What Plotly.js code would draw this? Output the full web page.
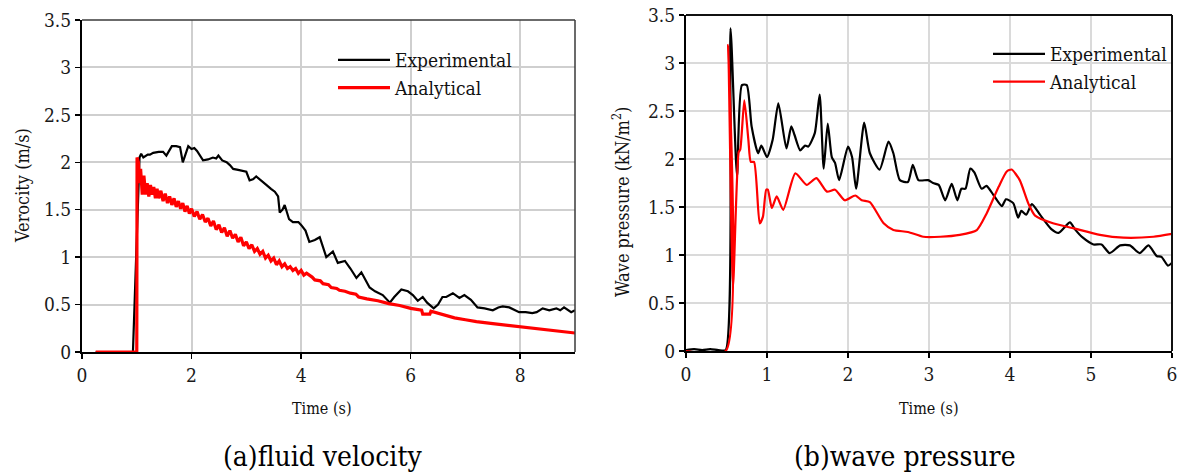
<!DOCTYPE html>
<html>
<head>
<meta charset="utf-8">
<script src="https://cdn.plot.ly/plotly-3.0.1.min.js"></script>
<style>html,body{margin:0;padding:0;background:#fff;}#chart{width:1182px;height:473px;}</style>
</head>
<body>
<div id="chart"></div>
<script>
// ---------- (a) fluid velocity ----------
const velTimeExp = [0.25,0.93,1.05,1.08,1.12,1.2,1.24,1.3,1.4,1.48,1.54,1.6,1.64,1.72,1.79,1.84,1.9,1.94,2.0,2.05,2.1,2.21,2.3,2.39,2.45,2.49,2.56,2.64,2.7,2.76,2.85,3.0,3.06,3.12,3.18,3.25,3.37,3.45,3.52,3.58,3.61,3.66,3.7,3.78,3.85,3.95,4.0,4.08,4.15,4.25,4.34,4.46,4.58,4.67,4.8,4.9,5.01,5.1,5.18,5.25,5.35,5.49,5.62,5.7,5.83,5.95,6.04,6.13,6.22,6.3,6.42,6.5,6.58,6.65,6.77,6.89,6.98,7.1,7.22,7.35,7.5,7.6,7.68,7.8,7.98,8.1,8.22,8.3,8.41,8.53,8.66,8.73,8.8,8.93,9.0];
const velExp     = [0,0,2.05,2.09,2.05,2.08,2.08,2.10,2.11,2.11,2.07,2.13,2.17,2.17,2.16,2.00,2.10,2.17,2.14,2.15,2.12,2.02,2.03,2.05,2.04,2.07,2.02,2.00,1.97,1.93,1.92,1.90,1.81,1.82,1.85,1.82,1.76,1.72,1.69,1.64,1.47,1.50,1.55,1.40,1.37,1.37,1.34,1.28,1.16,1.18,1.21,1.00,1.06,0.94,0.96,0.88,0.78,0.84,0.76,0.68,0.64,0.60,0.52,0.58,0.66,0.64,0.60,0.54,0.58,0.52,0.46,0.50,0.58,0.58,0.62,0.57,0.60,0.55,0.47,0.46,0.44,0.47,0.48,0.47,0.42,0.42,0.41,0.42,0.46,0.44,0.46,0.44,0.47,0.42,0.44];

const velTimeAna = [0.25,1.0,1.005,1.03,1.05,1.07,1.10,1.13,1.16,1.19,1.22,1.25,1.28,1.31,1.34,1.37,1.40,1.44,1.48,1.52,1.56,1.60,1.64,1.68,1.72,1.76,1.80,1.84,1.88,1.92,1.96,2.00,2.05,2.10,2.15,2.20,2.25,2.30,2.35,2.40,2.45,2.50,2.55,2.60,2.65,2.70,2.75,2.80,2.85,2.90,2.95,3.00,3.05,3.10,3.15,3.20,3.25,3.30,3.35,3.40,3.45,3.50,3.55,3.60,3.65,3.70,3.75,3.80,3.85,3.90,3.95,4.00,4.05,4.10,4.20,4.25,4.35,4.40,4.50,4.55,4.65,4.70,4.80,4.90,5.00,5.05,5.20,5.40,5.60,5.80,6.00,6.20,6.22,6.35,6.37,6.60,6.80,7.00,7.20,7.50,7.80,8.00,8.30,8.60,9.00];
const velAna     = [0,0,2.05,2.00,1.78,1.93,1.66,1.86,1.66,1.78,1.64,1.76,1.66,1.74,1.62,1.72,1.62,1.70,1.59,1.67,1.57,1.64,1.55,1.62,1.53,1.59,1.51,1.57,1.48,1.54,1.46,1.51,1.43,1.48,1.40,1.45,1.37,1.41,1.33,1.38,1.29,1.34,1.26,1.31,1.22,1.28,1.20,1.24,1.16,1.21,1.12,1.16,1.09,1.13,1.06,1.09,1.03,1.06,0.99,1.02,0.96,0.99,0.92,0.96,0.90,0.93,0.88,0.90,0.86,0.88,0.83,0.86,0.81,0.83,0.79,0.76,0.75,0.72,0.71,0.68,0.67,0.65,0.64,0.62,0.61,0.58,0.56,0.54,0.51,0.49,0.46,0.44,0.40,0.40,0.43,0.39,0.36,0.34,0.32,0.30,0.28,0.27,0.25,0.23,0.20];

// ---------- (b) wave pressure ----------
const presTimeExp = [0,0.1,0.2,0.3,0.4,0.49,0.55,0.63,0.69,0.75,0.81,0.89,0.93,1.0,1.07,1.14,1.24,1.30,1.34,1.41,1.47,1.51,1.59,1.65,1.70,1.75,1.80,1.84,1.89,2.0,2.05,2.10,2.20,2.27,2.39,2.50,2.56,2.64,2.74,2.80,2.87,2.99,3.05,3.12,3.20,3.28,3.35,3.40,3.45,3.51,3.56,3.65,3.71,3.80,3.90,3.95,4.04,4.10,4.14,4.20,4.27,4.37,4.51,4.60,4.74,4.80,4.90,5.03,5.13,5.23,5.36,5.48,5.60,5.71,5.81,5.87,5.95,6.0];
const presExp     = [0.01,0.02,0.01,0.02,0.01,0.01,3.36,1.82,2.77,2.77,2.34,2.06,2.14,2.02,2.20,2.58,2.11,2.34,2.25,2.09,2.14,2.13,2.27,2.67,1.90,2.37,2.02,1.96,1.78,2.13,2.02,1.69,2.38,2.06,1.89,2.18,2.06,1.78,1.76,1.94,1.78,1.78,1.75,1.73,1.57,1.74,1.57,1.69,1.69,1.90,1.86,1.69,1.72,1.62,1.51,1.58,1.54,1.39,1.46,1.42,1.53,1.42,1.27,1.23,1.34,1.27,1.18,1.11,1.11,1.02,1.10,1.10,1.02,1.10,0.99,0.98,0.89,0.92];

const presTimeAna = [0,0.49,0.52,0.58,0.65,0.67,0.72,0.77,0.80,0.84,0.91,0.95,0.99,1.01,1.06,1.12,1.20,1.35,1.49,1.61,1.74,1.84,1.96,2.09,2.17,2.27,2.44,2.56,2.74,2.93,3.14,3.38,3.59,3.71,3.86,3.96,4.02,4.12,4.23,4.31,4.53,4.78,5.11,5.40,5.77,6.0];
const presAna     = [0,0,3.19,0.67,2.07,2.10,2.61,2.20,1.97,1.97,1.33,1.40,1.68,1.68,1.49,1.61,1.47,1.85,1.73,1.80,1.66,1.68,1.57,1.62,1.57,1.55,1.33,1.26,1.24,1.19,1.19,1.21,1.26,1.43,1.71,1.87,1.89,1.78,1.53,1.41,1.33,1.28,1.21,1.18,1.19,1.22];

// ---------- text ----------
const seriesNames = ['Experimental','Analytical'];
const xTitle = 'Time (s)';
const yTitleA = 'Verocity (m/s)';
const yTitleB = 'Wave pressure (kN/m<sup>2</sup>)';
const captionA = '(a)fluid velocity';
const captionB = '(b)wave pressure';

const FONT = '"DejaVu Serif Condensed", "DejaVu Serif", serif';
const W = 1182, H = 473;
const px = v => v / W;
const py = v => (H - v) / H;

const traces = [
  {x: velTimeExp, y: velExp, name: seriesNames[0], type: 'scatter', mode: 'lines',
   line: {color: '#000000', width: 2.2}, xaxis: 'x', yaxis: 'y', legend: 'legend'},
  {x: velTimeAna, y: velAna, name: seriesNames[1], type: 'scatter', mode: 'lines',
   line: {color: '#ff0000', width: 3.2}, xaxis: 'x', yaxis: 'y', legend: 'legend'},
  {x: presTimeExp, y: presExp, name: seriesNames[0], type: 'scatter', mode: 'lines',
   line: {color: '#000000', width: 2.2, shape: 'spline', smoothing: 0.6}, xaxis: 'x2', yaxis: 'y2', legend: 'legend2'},
  {x: presTimeAna, y: presAna, name: seriesNames[1], type: 'scatter', mode: 'lines',
   line: {color: '#ff0000', width: 2.2, shape: 'spline', smoothing: 0.6}, xaxis: 'x2', yaxis: 'y2', legend: 'legend2'}
];

const axisCommon = {
  showgrid: true, gridcolor: '#cfcfcf', gridwidth: 2,
  zeroline: false, showline: true, linecolor: '#000000', linewidth: 2,
  ticks: 'outside', ticklen: 5, tickwidth: 1.5, tickcolor: '#000000',
  tickfont: {family: FONT, size: 19, color: '#1a1a1a'}, fixedrange: true
};

const legendCommon = {
  font: {family: FONT, size: 19, color: '#111111'},
  bgcolor: 'rgba(0,0,0,0)', borderwidth: 0, xanchor: 'left', yanchor: 'top',
  tracegroupgap: 0, itemwidth: 52, traceorder: 'normal'
};

const layout = {
  width: W, height: H,
  margin: {l: 0, r: 0, t: 0, b: 0},
  paper_bgcolor: '#ffffff', plot_bgcolor: '#ffffff',
  font: {family: FONT},
  showlegend: true,
  xaxis: Object.assign({}, axisCommon, {domain: [px(82), px(575)], range: [0, 9], dtick: 2, tick0: 0, anchor: 'y'}),
  yaxis: Object.assign({}, axisCommon, {domain: [py(352), py(20)], range: [0, 3.5], dtick: 0.5, tick0: 0, anchor: 'x'}),
  xaxis2: Object.assign({}, axisCommon, {domain: [px(686), px(1172)], range: [0, 6], dtick: 1, tick0: 0, anchor: 'y2', gridcolor: '#dadada'}),
  yaxis2: Object.assign({}, axisCommon, {domain: [py(351), py(15)], range: [0, 3.5], dtick: 0.5, tick0: 0, anchor: 'x2', gridcolor: '#dadada'}),
  legend: Object.assign({}, legendCommon, {x: px(333), y: py(41)}),
  legend2: Object.assign({}, legendCommon, {x: px(988), y: py(35)}),
  shapes: [
    {type: 'line', xref: 'x domain', yref: 'y domain', x0: 0, x1: 1, y0: 1, y1: 1, line: {color: '#3a3a3a', width: 1.5}, layer: 'above'},
    {type: 'line', xref: 'x domain', yref: 'y domain', x0: 1, x1: 1, y0: 0, y1: 1, line: {color: '#3a3a3a', width: 1.5}, layer: 'above'},
    {type: 'line', xref: 'x2 domain', yref: 'y2 domain', x0: 0, x1: 1, y0: 1, y1: 1, line: {color: '#111111', width: 1.8}, layer: 'above'},
    {type: 'line', xref: 'x2 domain', yref: 'y2 domain', x0: 1, x1: 1, y0: 0, y1: 1, line: {color: '#111111', width: 2}, layer: 'above'}
  ],
  annotations: [
    {text: xTitle, xref: 'paper', yref: 'paper', x: px(322), y: py(408), showarrow: false, xanchor: 'center', yanchor: 'middle', font: {family: FONT, size: 16, color: '#111'}},
    {text: xTitle, xref: 'paper', yref: 'paper', x: px(929), y: py(408), showarrow: false, xanchor: 'center', yanchor: 'middle', font: {family: FONT, size: 16, color: '#111'}},
    {text: yTitleA, xref: 'paper', yref: 'paper', x: px(22), y: py(186), showarrow: false, textangle: -90, xanchor: 'center', yanchor: 'middle', font: {family: FONT, size: 18, color: '#111'}},
    {text: yTitleB, xref: 'paper', yref: 'paper', x: px(621), y: py(202), showarrow: false, textangle: -90, xanchor: 'center', yanchor: 'middle', font: {family: FONT, size: 18, color: '#111'}},
    {text: captionA, xref: 'paper', yref: 'paper', x: px(323), y: py(456), showarrow: false, xanchor: 'center', yanchor: 'middle', font: {family: FONT, size: 28, color: '#000'}},
    {text: captionB, xref: 'paper', yref: 'paper', x: px(905), y: py(456), showarrow: false, xanchor: 'center', yanchor: 'middle', font: {family: FONT, size: 28, color: '#000'}}
  ]
};

Plotly.newPlot('chart', traces, layout, {displayModeBar: false, staticPlot: true, responsive: false});
</script>
</body>
</html>
